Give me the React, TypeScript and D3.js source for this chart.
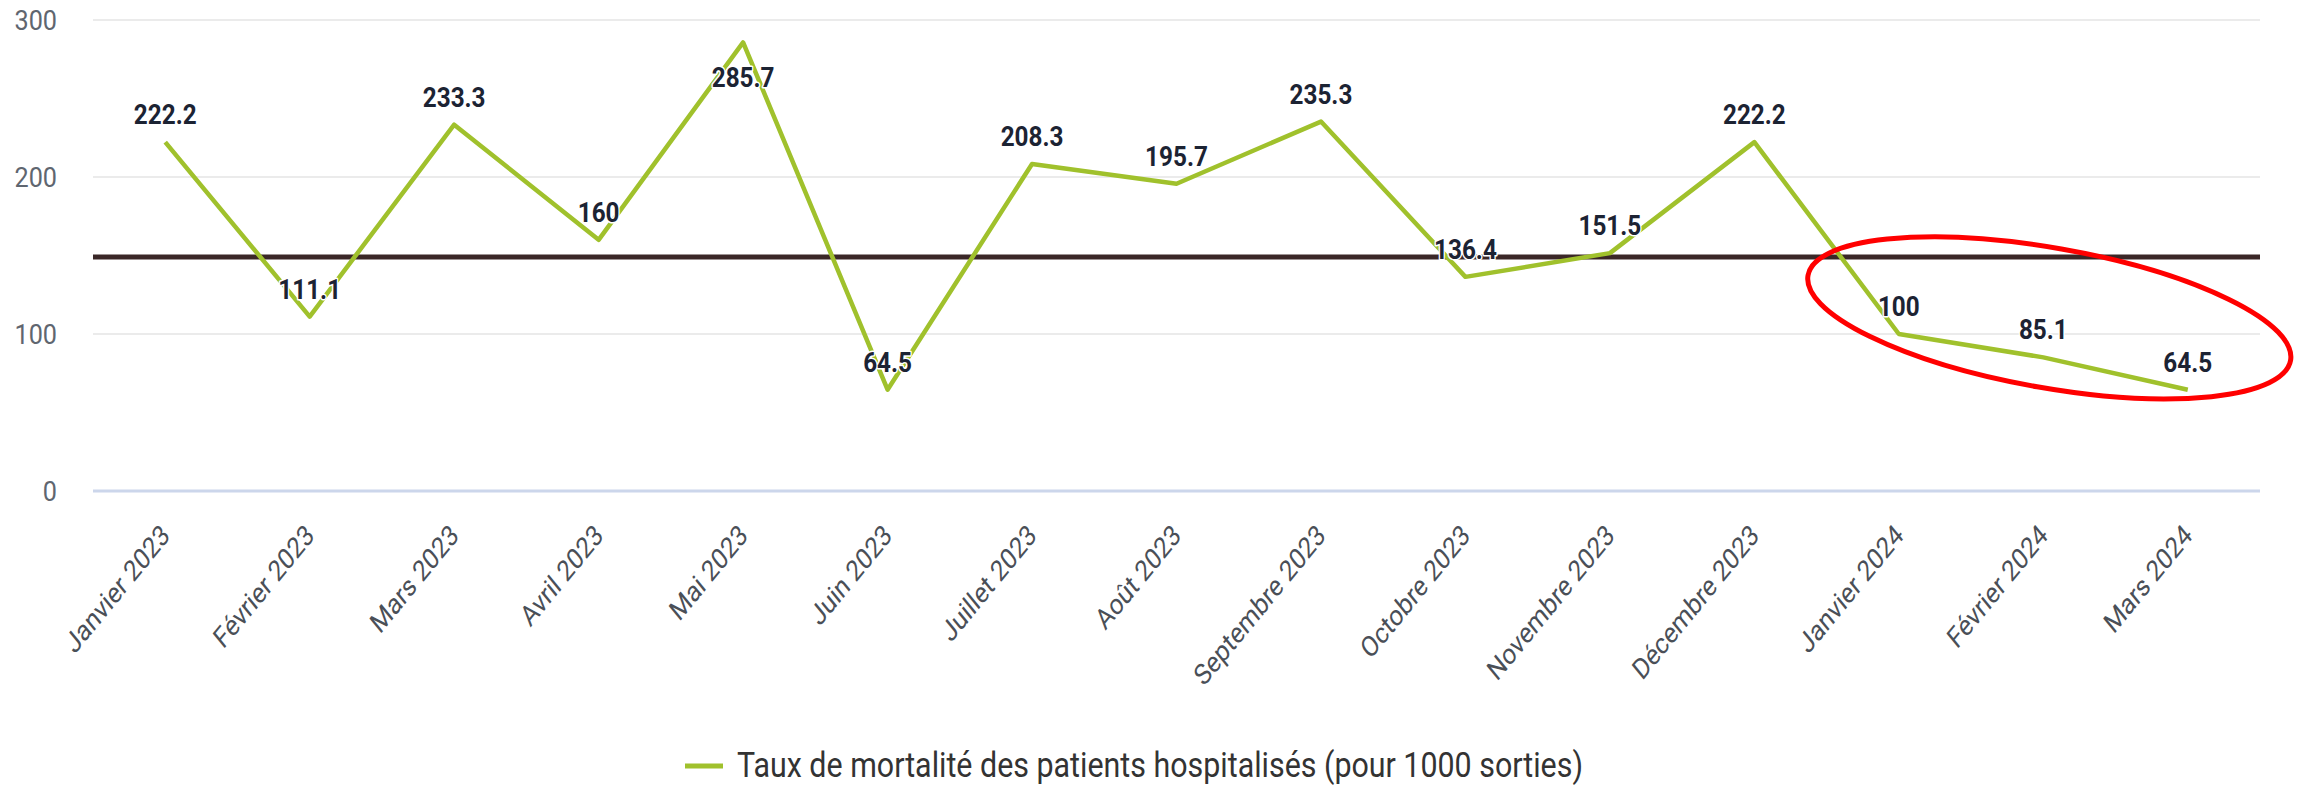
import React from 'react';
import * as d3 from 'd3';

// values
const months = [
    'Janvier 2023', 'Février 2023', 'Mars 2023', 'Avril 2023', 'Mai 2023', 'Juin 2023',
    'Juillet 2023', 'Août 2023', 'Septembre 2023', 'Octobre 2023', 'Novembre 2023',
    'Décembre 2023', 'Janvier 2024', 'Février 2024', 'Mars 2024',
];
const rates = [222.2, 111.1, 233.3, 160, 285.7, 64.5, 208.3, 195.7, 235.3, 136.4, 151.5, 222.2, 100, 85.1, 64.5];
const yTicks = [0, 100, 200, 300];
const targetValue = 149;
const seriesName = 'Taux de mortalité des patients hospitalisés (pour 1000 sorties)';
// months circled in red
const highlighted = ['Janvier 2024', 'Février 2024', 'Mars 2024'];

const width = 2305;
const height = 785;
const margin = { top: 20, right: 45, bottom: 294, left: 93 };
const squeeze = 0.9; // text in the source looks horizontally compressed
const green = '#a0c12c';

const App = () => {
    const x = d3.scaleBand()
        .domain(months)
        .range([margin.left, width - margin.right]);
    const y = d3.scaleLinear()
        .domain([0, 300])
        .range([height - margin.bottom, margin.top]);

    const cx = (m: string) => (x(m) as number) + x.bandwidth() / 2;
    const pts = months.map((m, i) => ({ m, v: rates[i] }));

    const line = d3.line<{ m: string; v: number }>()
        .x(d => cx(d.m))
        .y(d => y(d.v));

    // ellipse round the last months
    const hx = highlighted.map(cx);
    const hy = highlighted.map(m => y(rates[months.indexOf(m)]));
    const ex = (d3.min(hx)! + d3.max(hx)!) / 2 + 6;
    const ey = (d3.min(hy)! + d3.max(hy)!) / 2 - 44;

    const labelY = (v: number) => {
        const py = y(v);
        return py - 38 < margin.top ? py + 45 : py - 18;
    };

    return (
        <svg width={width} height={height} style={{ display: 'block', position: 'absolute', left: 0, top: 0, background: '#fff' }}
            fontFamily="Roboto, 'Noto Sans', sans-serif">
            {/* grid */}
            <g>
                {yTicks.map(t => (
                    <line key={t} x1={margin.left} x2={width - margin.right} y1={y(t)} y2={y(t)}
                        stroke={t === 0 ? '#ccd6eb' : '#ebebeb'} strokeWidth={t === 0 ? 3 : 2} />
                ))}
            </g>
            {/* y labels */}
            <g fill="#5f6670" fontSize={28} textAnchor="end">
                {yTicks.map(t => (
                    <text key={t} transform={`translate(57,${y(t) + 10}) scale(${squeeze},1)`}>{t}</text>
                ))}
            </g>
            {/* x labels */}
            <g fill="#4a4f57" fontSize={29} textAnchor="end">
                {months.map(m => (
                    <text key={m} transform={`translate(${cx(m) + 6},${y(0) + 46}) scale(0.82,1) rotate(-45)`}>{m}</text>
                ))}
            </g>
            {/* target line */}
            <line x1={margin.left} x2={width - margin.right} y1={y(targetValue)} y2={y(targetValue)}
                stroke="#3a2727" strokeWidth={5} />
            {/* series */}
            <path d={line(pts) ?? ''} fill="none" stroke={green} strokeWidth={4.5} strokeLinejoin="round" />
            {/* value labels */}
            <g fontSize={27} fontWeight="bold" fill="#1c2333" textAnchor="middle"
                stroke="#fff" strokeWidth={3} paintOrder="stroke" strokeLinejoin="round">
                {pts.map((d, i) => (
                    <text key={i} transform={`translate(${cx(d.m)},${labelY(d.v)}) scale(${squeeze},1)`}>{d.v}</text>
                ))}
            </g>
            {/* annotation */}
            <ellipse cx={ex} cy={ey} rx={245} ry={70} transform={`rotate(10,${ex},${ey})`}
                fill="none" stroke="#ff0000" strokeWidth={5} />
            {/* legend */}
            <g>
                <line x1={685} x2={723} y1={766} y2={766} stroke={green} strokeWidth={5} />
                <text x={737} y={777} fontSize={35} fill="#333" textLength={846} lengthAdjust="spacingAndGlyphs">{seriesName}</text>
            </g>
        </svg>
    );
};

export default App;
